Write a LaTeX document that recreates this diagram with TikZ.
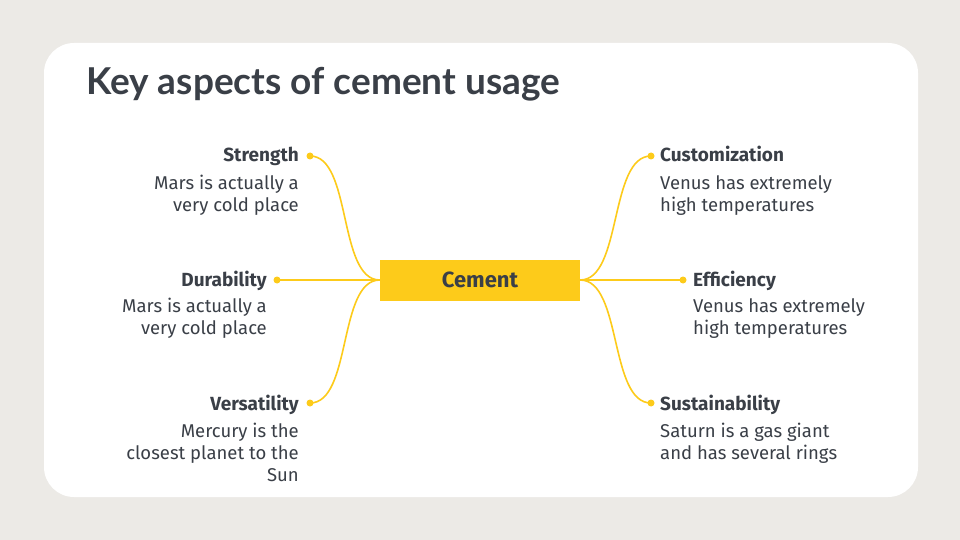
\documentclass[tikz,border=0pt]{standalone}
\usepackage{fontspec}
\setmainfont{Fira Sans}
\newfontfamily\titlefont{Lato}
\definecolor{bg}{HTML}{ECEAE6}
\definecolor{ink}{HTML}{3A3F47}
\definecolor{gold}{HTML}{FDCB1A}
\begin{document}
\begin{tikzpicture}[x=1pt,y=-1pt,
  dot/.style={circle,fill=gold,inner sep=0pt,minimum size=7pt},
  link/.style={gold,line width=1.6pt},
  head/.style={font=\bfseries\fontsize{19}{22}\selectfont,text=ink,inner sep=0pt},
  descl/.style={font=\fontsize{18.5}{22}\selectfont,text=ink,inner sep=0pt,align=right,anchor=north east},
  descr/.style={font=\fontsize{18.5}{22}\selectfont,text=ink,inner sep=0pt,align=left,anchor=north west}]
\useasboundingbox (0,0) rectangle (960,540);
\fill[bg] (0,0) rectangle (960,540);
\fill[white,rounded corners=30pt] (44,43) rectangle (918,497);
\node[anchor=base west,font=\titlefont\bfseries\fontsize{37}{42}\selectfont,text=ink,inner sep=0pt] (title) at (86,95) {Key aspects of cement usage};
\node[fill=gold,minimum width=200pt,minimum height=41pt,inner sep=0pt,font=\bfseries\fontsize{22}{24}\selectfont,text=ink] (cement) at (480,280) {Cement};
% left
\node[dot] (d1) at (310,156) {};
\node[dot] (d2) at (277,280) {};
\node[dot] (d3) at (310,403) {};
\node[head,anchor=base east] (h1) at (299,162) {Strength};
\node[descl] (t1) at (299,175) {Mars is actually a\\very cold place};
\node[head,anchor=base east] (h2) at (267,286) {Durability};
\node[descl] (t2) at (267,298) {Mars is actually a\\very cold place};
\node[head,anchor=base east] (h3) at (299,410) {Versatility};
\node[descl] (t3) at (299,423) {Mercury is the\\closest planet to the\\Sun};
% right
\node[dot] (d4) at (651,156) {};
\node[dot] (d5) at (683,280) {};
\node[dot] (d6) at (651,403) {};
\node[head,anchor=base west] (h4) at (660,162) {Customization};
\node[descr] (t4) at (660,175) {Venus has extremely\\high temperatures};
\node[head,anchor=base west] (h5) at (693,286) {Efficiency};
\node[descr] (t5) at (693,298) {Venus has extremely\\high temperatures};
\node[head,anchor=base west] (h6) at (660,410) {Sustainability};
\node[descr] (t6) at (660,423) {Saturn is a gas giant\\and has several rings};
% connectors
\draw[link] (cement.west) .. controls +(-42,0) and +(42,0) .. (d1.center);
\draw[link] (cement.west) -- (d2.center);
\draw[link] (cement.west) .. controls +(-42,0) and +(42,0) .. (d3.center);
\draw[link] (cement.east) .. controls +(42,0) and +(-42,0) .. (d4.center);
\draw[link] (cement.east) -- (d5.center);
\draw[link] (cement.east) .. controls +(42,0) and +(-42,0) .. (d6.center);
\end{tikzpicture}
\end{document}
